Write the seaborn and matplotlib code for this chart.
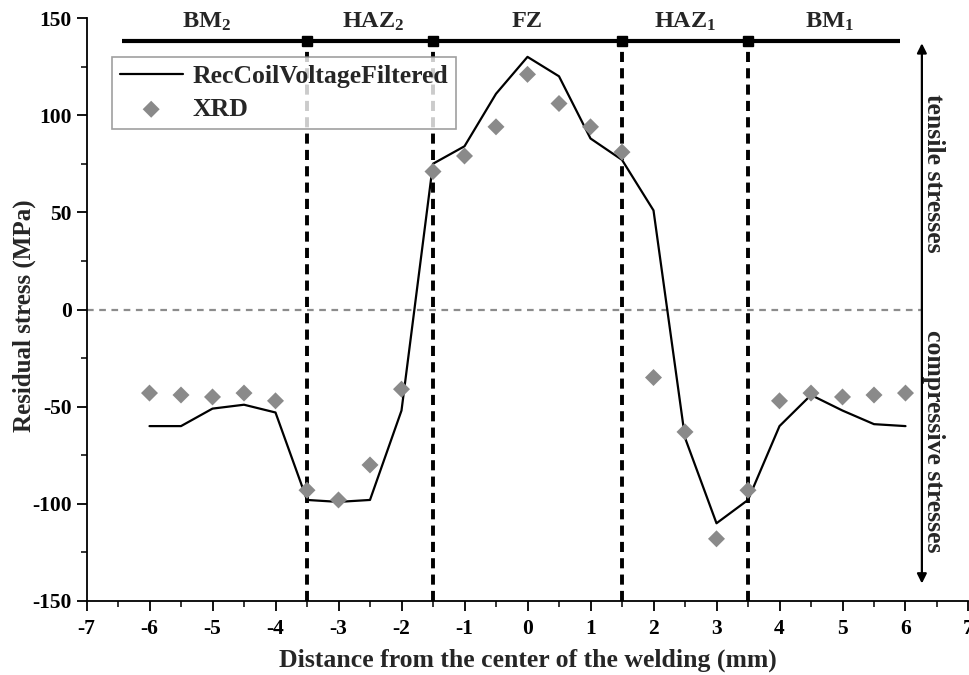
import numpy as np
import pandas as pd
import matplotlib
matplotlib.use("Agg")
import matplotlib.pyplot as plt
import seaborn as sns
from matplotlib.ticker import MultipleLocator

# ---- data ----
x_line = [-6, -5.5, -5, -4.5, -4, -3.5, -3, -2.5, -2, -1.5, -1, -0.5, 0, 0.5, 1, 1.5,
          2, 2.5, 3, 3.5, 4, 4.5, 5, 5.5, 6]
y_line = [-60, -60, -51, -49, -53, -98, -99, -98, -52, 75, 84, 111, 130, 120, 88, 77,
          51, -66, -110, -98, -60, -44, -52, -59, -60]
x_xrd = [-6, -5.5, -5, -4.5, -4, -3.5, -3, -2.5, -2, -1.5, -1, -0.5, 0, 0.5, 1, 1.5,
         2, 2.5, 3, 3.5, 4, 4.5, 5, 5.5, 6]
y_xrd = [-43, -44, -45, -43, -47, -93, -98, -80, -41, 71, 79, 94, 121, 106, 94, 81,
         -35, -63, -118, -93, -47, -43, -45, -44, -43]
zone_bounds = [-3.5, -1.5, 1.5, 3.5]
zone_labels = ["BM$_\\mathbf{2}$", "HAZ$_\\mathbf{2}$", "FZ", "HAZ$_\\mathbf{1}$", "BM$_\\mathbf{1}$"]
zone_label_x = [-5.1, -2.45, 0, 2.5, 4.8]
x_ticks = list(range(-7, 8))
y_ticks = [-150, -100, -50, 0, 50, 100, 150]
series_names = ["RecCoilVoltageFiltered", "XRD"]

df_line = pd.DataFrame({"x": x_line, "y": y_line, "s": series_names[0]})
df_xrd = pd.DataFrame({"x": x_xrd, "y": y_xrd, "s": series_names[1]})

sns.set_theme(style="ticks")
plt.rcParams["font.family"] = ["Liberation Serif", "DejaVu Serif"]
plt.rcParams["font.weight"] = "bold"
plt.rcParams["axes.unicode_minus"] = False
plt.rcParams["mathtext.fontset"] = "custom"
plt.rcParams["mathtext.rm"] = "Liberation Serif:bold"
plt.rcParams["mathtext.bf"] = "Liberation Serif:bold"
plt.rcParams["mathtext.it"] = "Liberation Serif:bold"

W, H = 969, 675
fig = plt.figure(figsize=(W / 100, H / 100), dpi=100)
ax = fig.add_axes([86.5 / W, (H - 601) / H, (968.5 - 86.5) / W, (601 - 18) / H])

ax.set_xlim(-7, 7)
ax.set_ylim(-150, 150)

# zero line
ax.plot([-7, 6.26], [0, 0], color="#8c8c8c", lw=1.6, ls=(0, (3, 2.5)), zorder=1)

# vertical zone boundaries
for xb in zone_bounds:
    ax.plot([xb, xb], [-150, 138], color="black", lw=2.8, ls=(0, (2.6, 1.6)), zorder=2)

# zone bar
ax.plot([-6.43, 5.91], [138, 138], color="black", lw=3, solid_capstyle="butt", zorder=3)
ax.plot(zone_bounds, [138] * 4, ls="none", marker="s", ms=6.5, color="black", zorder=4)
for lab, xl in zip(zone_labels, zone_label_x):
    ax.text(xl, 148, lab, ha="center", va="center", fontsize=17.5, fontweight="bold",
            clip_on=False)

sns.lineplot(data=df_line, x="x", y="y", color="black", lw=1.6, ax=ax,
             label=series_names[0], zorder=5)
sns.scatterplot(data=df_xrd, x="x", y="y", color="#8a8a8a", marker="D", s=75,
                edgecolor="none", ax=ax, label=series_names[1], zorder=6)

# right side arrow
ax.annotate("", xy=(6.26, 137), xytext=(6.26, -141),
            arrowprops=dict(arrowstyle="<|-|>", color="black", lw=1.6,
                            mutation_scale=14, shrinkA=0, shrinkB=0))
ax.text(6.45, 70, "tensile stresses", rotation=270, ha="center", va="center",
        fontsize=18.5, fontweight="bold")
ax.text(6.45, -68, "compressive stresses", rotation=270, ha="center", va="center",
        fontsize=18.5, fontweight="bold")

ax.set_xticks(x_ticks)
ax.set_yticks(y_ticks)
ax.xaxis.set_minor_locator(MultipleLocator(0.5))
ax.yaxis.set_minor_locator(MultipleLocator(25))
ax.tick_params(axis="both", which="major", direction="out", length=7, width=1.3,
               labelsize=15.5, colors="black")
ax.tick_params(axis="x", which="major", pad=6)
ax.tick_params(axis="both", which="minor", direction="out", length=4, width=1.3)
for lab in ax.get_xticklabels() + ax.get_yticklabels():
    lab.set_fontweight("bold")

for side in ["top", "right"]:
    ax.spines[side].set_visible(False)
for side in ["left", "bottom"]:
    ax.spines[side].set_linewidth(1.3)
    ax.spines[side].set_color("black")

ax.set_xlabel("Distance from the center of the welding (mm)", fontsize=18.5,
              fontweight="bold")
ax.xaxis.set_label_coords(0.5, -(660 - 601) / 583)
ax.xaxis.label.set_va("center")
ax.set_ylabel("Residual stress (MPa)", fontsize=18, fontweight="bold")
ax.yaxis.set_label_coords(-(86.5 - 24) / 882, 0.49)
ax.yaxis.label.set_va("center")

leg = ax.legend(loc="upper left", bbox_to_anchor=((112 - 86.5) / 882, (601 - 57) / 583),
                frameon=True, fancybox=False, fontsize=18.5, handlelength=2.45,
                borderpad=0.3, labelspacing=0.4, handletextpad=0.4, borderaxespad=0)
leg.get_frame().set_edgecolor("#888888")
leg.get_frame().set_linewidth(1.2)
for t in leg.get_texts():
    t.set_fontweight("bold")

fig.savefig("out.png", dpi=100)
